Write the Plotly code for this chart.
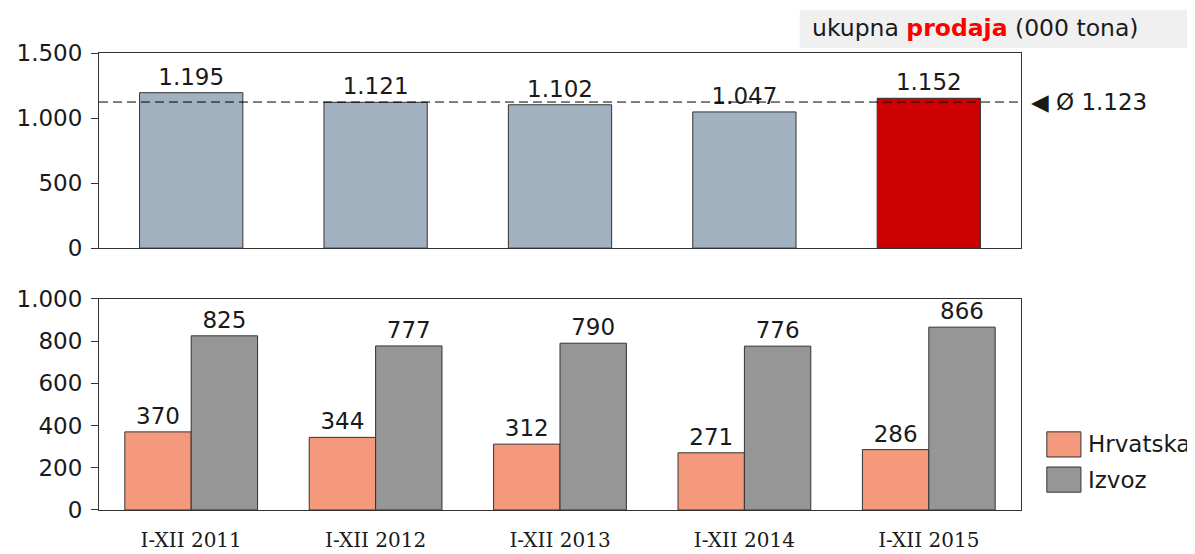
import plotly.graph_objects as go
from plotly.subplots import make_subplots

categories = ["I-XII 2011", "I-XII 2012", "I-XII 2013", "I-XII 2014", "I-XII 2015"]
total = [1195, 1121, 1102, 1047, 1152]
hrvatska = [370, 344, 312, 271, 286]
izvoz = [825, 777, 790, 776, 866]
average = 1123
top_colors = ["#A2B1C0", "#A2B1C0", "#A2B1C0", "#A2B1C0", "#CC0000"]

FONT = "DejaVu Sans"
TXT = "#1a1a1a"
LINE = "#333333"
FS = 23

fig = make_subplots(rows=2, cols=1, shared_xaxes=False, vertical_spacing=0.11,
                    row_heights=[0.48, 0.52])

fig.add_trace(go.Bar(x=categories, y=total, width=0.56,
                     marker=dict(color=top_colors, line=dict(color=LINE, width=1)),
                     texttemplate="%{y:,d}", textposition="outside",
                     textfont=dict(size=FS, color=TXT, family=FONT),
                     cliponaxis=False, showlegend=False), row=1, col=1)

fig.add_trace(go.Bar(x=categories, y=hrvatska, name="Hrvatska",
                     marker=dict(color="#F4997B", line=dict(color=LINE, width=1)),
                     texttemplate="%{y:,d}", textposition="outside",
                     textfont=dict(size=FS, color=TXT, family=FONT),
                     cliponaxis=False, showlegend=False), row=2, col=1)
fig.add_trace(go.Bar(x=categories, y=izvoz, name="Izvoz",
                     marker=dict(color="#969696", line=dict(color=LINE, width=1)),
                     texttemplate="%{y:,d}", textposition="outside",
                     textfont=dict(size=FS, color=TXT, family=FONT),
                     cliponaxis=False, showlegend=False), row=2, col=1)

axis_common = dict(showline=True, linecolor=LINE, linewidth=1, mirror=True,
                   showgrid=False, zeroline=False, automargin=False)
fig.update_xaxes(**axis_common)
fig.update_yaxes(**axis_common, ticks="outside", ticklen=7, tickcolor=LINE,
                 tickformat=",d", tickfont=dict(size=FS, color=TXT, family=FONT),
                 ticklabelstandoff=4)

fig.update_xaxes(showticklabels=False, row=1, col=1)
fig.update_xaxes(tickfont=dict(size=20, color=TXT, family="DejaVu Serif"),
                 ticks="", ticklabelstandoff=12, row=2, col=1)
fig.update_yaxes(range=[0, 1500], tickvals=[0, 500, 1000, 1500], row=1, col=1)
fig.update_yaxes(range=[0, 1000], tickvals=[0, 200, 400, 600, 800, 1000], row=2, col=1)

fig.update_layout(yaxis=dict(domain=[0.573, 1.0]), yaxis2=dict(domain=[0.0, 0.462]))

# average line
fig.add_shape(type="line", xref="x domain", yref="y", x0=0, x1=1, y0=average, y1=average,
              line=dict(color="#000000", width=1, dash="9px,5px"))
fig.add_annotation(xref="x domain", yref="y", x=1.009, y=average, xanchor="left",
                   yanchor="middle", showarrow=False,
                   text="◀ Ø " + f"{average:,}".replace(",", "."),
                   font=dict(size=FS, color=TXT, family=FONT))

# title box
fig.add_shape(type="rect", xref="paper", yref="paper", x0=0.760, x1=1.185, y0=1.011, y1=1.094,
              fillcolor="#F0F0F0", line=dict(width=0), layer="below")
fig.add_annotation(xref="paper", yref="paper", x=0.771, y=1.054, xanchor="left", yanchor="middle",
                   showarrow=False,
                   text="ukupna <b><span style='color:#FF0000'>prodaja</span></b> (000 tona)",
                   font=dict(size=23.5, color=TXT, family=FONT))

# legend (drawn)
legend_items = [("Hrvatska", "#F4997B", 0.116, 0.171), ("Izvoz", "#969696", 0.039, 0.094)]
for name, col, y0, y1 in legend_items:
    fig.add_shape(type="rect", xref="paper", yref="paper", x0=1.028, x1=1.065, y0=y0, y1=y1,
                  fillcolor=col, line=dict(color=LINE, width=1))
    fig.add_annotation(xref="paper", yref="paper", x=1.070, y=(y0 + y1) / 2, xanchor="left",
                       yanchor="middle", showarrow=False, text=name,
                       font=dict(size=FS, color=TXT, family=FONT))

fig.update_layout(width=1187, height=546, margin=dict(l=91, r=174, t=45, b=44),
                  plot_bgcolor="white", paper_bgcolor="white",
                  barmode="group", bargap=0.28, bargroupgap=0,
                  separators=",.", showlegend=False,
                  font=dict(family=FONT, color=TXT))

fig.write_html("out.html")
